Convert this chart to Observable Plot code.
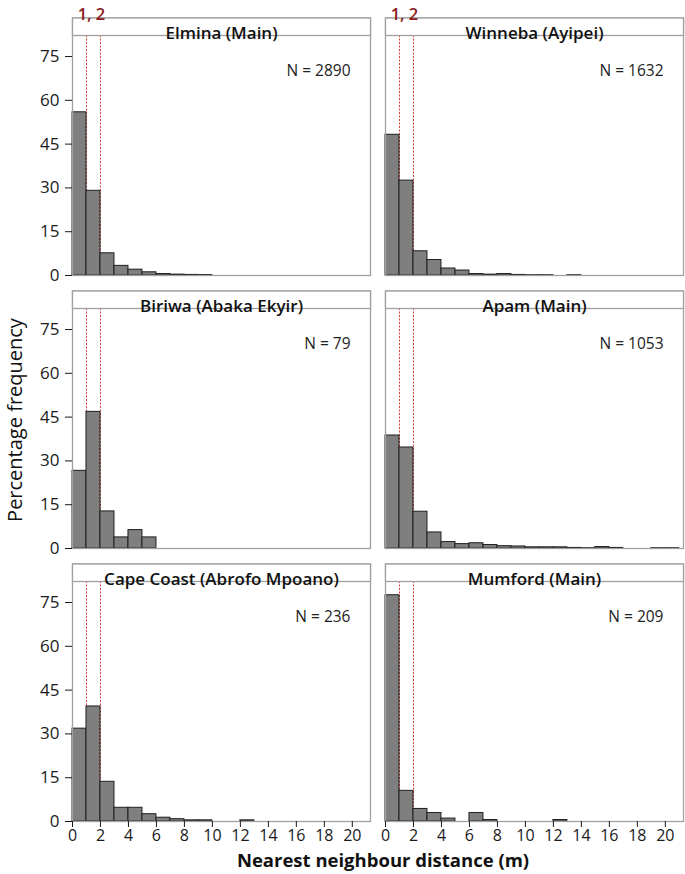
<!DOCTYPE html>
<html>
<head>
<meta charset="utf-8">
<script src="https://cdn.jsdelivr.net/npm/d3@7"></script>
<script src="https://cdn.jsdelivr.net/npm/@observablehq/plot@0.6"></script>
<style>
  html, body { margin: 0; padding: 0; background: #fff; }
  #chart svg g[aria-label="y-axis tick"], #chart svg g[aria-label="x-axis tick"] { stroke: #9a9a9a; }
</style>
</head>
<body>
<div id="chart"></div>
<script>
// ---- data (percentage frequency per 1 m bin, starting at 0 m) ----
const panelNames = ["Elmina (Main)", "Winneba (Ayipei)", "Biriwa (Abaka Ekyir)", "Apam (Main)", "Cape Coast (Abrofo Mpoano)", "Mumford (Main)"];
const panelN = [2890, 1632, 79, 1053, 236, 209];
const elmina = [55.9, 29.0, 7.6, 3.3, 2.0, 1.1, 0.5, 0.3, 0.2, 0.15];
const winneba = [48.2, 32.5, 8.3, 5.3, 2.4, 1.7, 0.5, 0.3, 0.5, 0.2, 0.1, 0.1, 0, 0.1];
const biriwa = [26.6, 46.8, 12.7, 3.8, 6.3, 3.8];
const apam = [38.7, 34.6, 12.6, 5.5, 2.2, 1.5, 1.8, 1.2, 0.8, 0.7, 0.4, 0.4, 0.4, 0.2, 0.1, 0.5, 0.2, 0, 0, 0.1, 0.1];
const capeCoast = [31.8, 39.4, 13.6, 4.7, 4.7, 2.5, 1.3, 0.8, 0.4, 0.4, 0, 0, 0.4];
const mumford = [77.5, 10.5, 4.3, 2.9, 1.0, 0, 2.9, 0.5, 0, 0, 0, 0, 0.5];
const seriesValues = [elmina, winneba, biriwa, apam, capeCoast, mumford];
const refLines = [1, 2];
const yTicks = [0, 15, 30, 45, 60, 75];
const xTicks = [0, 2, 4, 6, 8, 10, 12, 14, 16, 18, 20];
const binWidth = 1;
const xTitle = "Nearest neighbour distance (m)";
const yTitle = "Percentage frequency";

// ---- layout ----
const W = 685, H = 874;
const stripH = 17.5;
const panelH = 240; // plot area height of each facet

const panels = panelNames.map((name, i) => ({name, n: panelN[i], col: i % 2, row: Math.floor(i / 2)}));
const bars = [];
panels.forEach((p, i) => {
  seriesValues[i].forEach((v, k) => {
    if (v > 0) bars.push({col: p.col, row: p.row, x1: k * binWidth, x2: (k + 1) * binWidth, y: v});
  });
});
const topPanels = panels.filter(p => p.row === 0);

const chart = Plot.plot({
  width: W,
  height: H,
  marginLeft: 72,
  marginRight: 2,
  marginTop: 35,
  marginBottom: 53,
  style: {fontFamily: "'Open Sans', 'Noto Sans', sans-serif", fontSize: "15px", color: "#1a1a1a", background: "#fff"},
  fx: {domain: [0, 1], axis: null, paddingInner: 0.048, paddingOuter: 0},
  fy: {domain: [0, 1, 2], axis: null, paddingInner: 0.1209, paddingOuter: 0},
  x: {domain: [0, 21.3]},
  y: {domain: [0, 82.2]},
  marks: [
    Plot.ruleX(refLines, {stroke: "#dd3c36", strokeWidth: 1, strokeDasharray: "2,1.5"}),
    Plot.rectY(bars, {fx: "col", fy: "row", x1: "x1", x2: "x2", y: "y", fill: "#7f7f7f", stroke: "#1f1f1f", strokeWidth: 1}),
    Plot.frame({stroke: "#a0a0a0", strokeWidth: 1.3, insetTop: -stripH}),
    Plot.frame({stroke: "#a0a0a0", strokeWidth: 1.3, fill: "#fff", insetTop: -stripH, insetBottom: panelH}),
    Plot.text(panels, {fx: "col", fy: "row", text: "name", frameAnchor: "top", dy: -stripH / 2, fontSize: 17, fontWeight: 600, fill: "#111"}),
    Plot.text(panels, {fx: "col", fy: "row", text: d => `N = ${d.n}`, frameAnchor: "top-right", textAnchor: "end", dx: -20, dy: 29, fontSize: 15.5, fill: "#222"}),
    Plot.text(topPanels, {fx: "col", fy: "row", x: () => d3.mean(refLines), text: () => refLines.join(", "), frameAnchor: "top", dy: -27, dx: -2, fontSize: 16.5, fontWeight: 600, fill: "#8b1a1a"}),
    Plot.axisY(yTicks, {tickSize: 7, tickPadding: 6, label: null, fontSize: 17}),
    Plot.axisX(xTicks, {tickSize: 6, tickPadding: 2, label: null, fontSize: 16}),
    Plot.text([xTitle], {facet: "super", frameAnchor: "bottom", textAnchor: "middle", lineAnchor: "middle", dy: 40, dx: 5, fontSize: 18.5, fontWeight: 700, fill: "#111"}),
    Plot.text([yTitle], {facet: "super", frameAnchor: "left", textAnchor: "middle", lineAnchor: "middle", dx: -57, dy: -8.5, rotate: -90, fontSize: 20, fill: "#111"})
  ]
});
document.getElementById("chart").append(chart);
</script>
</body>
</html>
